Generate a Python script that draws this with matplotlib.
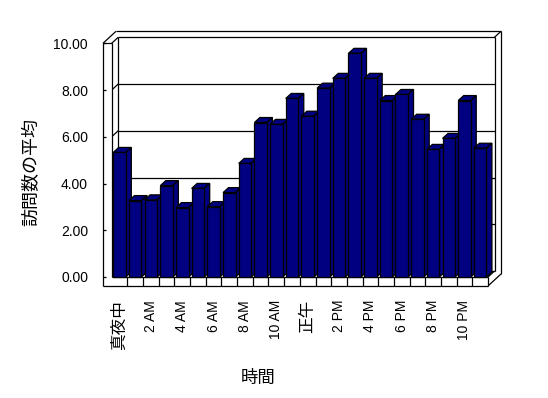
import matplotlib
matplotlib.use('Agg')
import matplotlib.pyplot as plt
from matplotlib.patches import Polygon

plt.rcParams['font.family'] = ['Liberation Sans', 'Noto Sans CJK JP']

# ---- data ----
hour_index = list(range(24))
values = [5.33, 3.27, 3.30, 3.91, 2.97, 3.79, 3.01, 3.61, 4.86, 6.61, 6.53, 7.64,
          6.88, 8.08, 8.50, 9.57, 8.50, 7.55, 7.81, 6.75, 5.46, 5.93, 7.55, 5.51]
tick_labels = ['真夜中', '2 AM', '4 AM', '6 AM', '8 AM', '10 AM',
               '正午', '2 PM', '4 PM', '6 PM', '8 PM', '10 PM']
y_ticks = [0, 2, 4, 6, 8, 10]
y_label = '訪問数の平均'
x_label = '時間'

W, H = 548, 398
fig = plt.figure(figsize=(W / 100, H / 100), dpi=100)
fig.patch.set_facecolor('white')

# front plane in pixels
x0p, x1p, y0p, y1p = 111.7, 488.0, 277.0, 43.3
ax = fig.add_axes([x0p / W, 1 - y0p / H, (x1p - x0p) / W, (y0p - y1p) / H])
n = len(values)
ymax = y_ticks[-1]
ax.set_xlim(0, n)
ax.set_ylim(0, ymax)
ax.set_frame_on(False)
ax.set_facecolor('none')

pxx = (x1p - x0p) / n          # pixels per x unit
pxy = (y0p - y1p) / ymax       # pixels per y unit
ux, uy = 6.5 / pxx, 6.0 / pxy  # depth offset
dx, dy = 5.5 / pxx, 5.0 / pxy  # bar depth offset
tx = 8.7 / pxx                 # left wall thickness
fy = 9.0 / pxy                 # floor thickness
lw = 0.9
K = 'black'


def line(xs, ys, z=2):
    ax.add_line(plt.Line2D(xs, ys, color=K, lw=lw, zorder=z, clip_on=False,
                           solid_capstyle='butt'))


# back wall edges
line([-tx + 2 * ux, n + 2 * ux], [ymax + 2 * uy, ymax + 2 * uy])
line([ux, n + ux], [ymax + uy, ymax + uy])
line([ux, ux], [uy, ymax + uy])
line([n + ux, n + ux], [uy, ymax + uy])
line([n + 2 * ux, n + 2 * ux], [-fy + 2 * uy, ymax + 2 * uy])
line([n + ux, n + 2 * ux], [ymax + uy, ymax + 2 * uy])
line([n, n + 2 * ux], [-fy, -fy + 2 * uy])
line([n, n + ux], [0, uy])
line([ux, n + ux], [uy, uy])
# gridlines
for v in y_ticks[1:-1]:
    line([ux, n + ux], [v + uy, v + uy], z=1.5)
    line([0, ux], [v, v + uy], z=1.5)
# left wall
ax.add_patch(Polygon([(-tx, ymax), (0, ymax), (0, 0), (n, 0), (n, -fy), (-tx, -fy)],
                     closed=True, facecolor='white', edgecolor='none', zorder=2.5,
                     clip_on=False))
line([-tx, -tx], [-fy, ymax], z=2.6)
line([0, 0], [0, ymax], z=2.6)
line([-tx, 0], [ymax, ymax], z=2.6)
line([-tx, -tx + 2 * ux], [ymax, ymax + 2 * uy], z=2.6)
line([0, ux], [ymax, ymax + uy], z=2.6)
for v in y_ticks:
    line([-tx, -tx + 3 / pxx], [v, v], z=2.6)
# floor front face
line([0, n], [0, 0], z=2.6)
line([-tx, n], [-fy, -fy], z=2.6)
line([n, n], [-fy, 0], z=2.6)
for k in range(1, n):
    line([k, k], [-fy, 0], z=2.6)

# bars
navy = '#000080'
bw = 0.8
centers = [i + 0.5 for i in hour_index]
bars = ax.bar(centers, values, width=bw, color=navy, edgecolor=K, linewidth=lw,
              clip_on=False)
for i, (b, c, v) in enumerate(zip(bars, centers, values)):
    xl, xr = c - bw / 2, c + bw / 2
    z = 3 + 2 * i
    b.set_zorder(z + 1)
    top = [(xl, v), (xr, v), (xr + dx, v + dy), (xl + dx, v + dy)]
    side = [(xr, 0), (xr + dx, dy), (xr + dx, v + dy), (xr, v)]
    for poly in (top, side):
        ax.add_patch(Polygon(poly, closed=True, facecolor=navy, edgecolor=K,
                             linewidth=lw, zorder=z, clip_on=False))

# ticks
ax.set_yticks(y_ticks)
ax.set_yticklabels([f'{v:.2f}' for v in y_ticks], fontsize=10)
ax.tick_params(axis='y', length=0, pad=(x0p - 88) * 0.72)
ax.set_xticks(centers[::2])
ax.set_xticklabels(tick_labels, rotation=90, fontsize=10, va='top', ha='center')
ax.tick_params(axis='x', length=0, pad=(300 - y0p) * 0.72)
for lab in ax.get_xticklabels():
    if any(ord(ch) > 127 for ch in lab.get_text()):
        lab.set_fontsize(12)

fig.text(31.7 / W, 1 - 172 / H, y_label, rotation=90, ha='center', va='center',
         fontsize=13)
fig.text(258 / W, 1 - 377.5 / H, x_label, ha='center', va='center', fontsize=12.5)

fig.savefig('out.png', dpi=100, facecolor='white')
